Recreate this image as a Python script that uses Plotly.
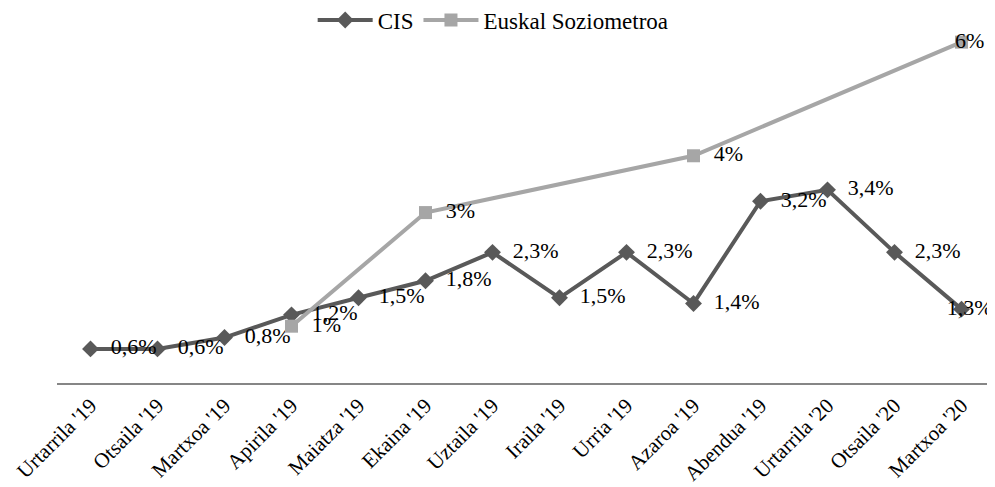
import plotly.graph_objects as go

months = ["Urtarrila '19", "Otsaila '19", "Martxoa '19", "Apirila '19", "Maiatza '19",
          "Ekaina '19", "Uztaila '19", "Iraila '19", "Urria '19", "Azaroa '19",
          "Abendua '19", "Urtarrila '20", "Otsaila '20", "Martxoa '20"]
cis = [0.6, 0.6, 0.8, 1.2, 1.5, 1.8, 2.3, 1.5, 2.3, 1.4, 3.2, 3.4, 2.3, 1.3]
euskal = [None, None, None, 1, None, 3, None, None, None, 4, None, None, None, 6]

def fmt(v, last=False):
    if v is None:
        return ""
    s = f"{int(v)}%" if float(v).is_integer() else f"{v:.1f}%".replace(".", ",")
    return "   " + s if last else "  " + s

FONT = "Liberation Serif"
n = len(months)
pos = ["middle right"] * (n - 1) + ["middle center"]

fig = go.Figure()
fig.add_trace(go.Scatter(
    x=months, y=cis, name="CIS", mode="lines+markers+text",
    line=dict(color="#595959", width=4),
    marker=dict(symbol="diamond", size=13, color="#595959"),
    text=[fmt(v, i == n - 1) for i, v in enumerate(cis)], textposition=pos,
    textfont=dict(family=FONT, size=22, color="#000000"),
    cliponaxis=False,
))
fig.add_trace(go.Scatter(
    x=months, y=euskal, name="Euskal Soziometroa", mode="lines+markers+text",
    connectgaps=True,
    line=dict(color="#A6A6A6", width=4),
    marker=dict(symbol="square", size=13, color="#A6A6A6"),
    text=[fmt(v, i == n - 1) for i, v in enumerate(euskal)], textposition=pos,
    textfont=dict(family=FONT, size=22, color="#000000"),
    cliponaxis=False,
))

fig.update_layout(
    width=995, height=487,
    margin=dict(l=49, r=8, t=12, b=112, autoexpand=False),
    paper_bgcolor="white", plot_bgcolor="white",
    font=dict(family=FONT, size=22, color="#000000"),
    showlegend=True,
    legend=dict(orientation="h", xref="paper", yref="paper",
                x=0.465, xanchor="center", y=1.0, yanchor="middle",
                font=dict(family=FONT, size=23), itemwidth=55,
                traceorder="normal", bgcolor="rgba(0,0,0,0)"),
    xaxis=dict(type="category", range=[-0.5, 13.5], showline=True,
               linecolor="#868686", linewidth=2, ticks="", showgrid=False,
               automargin=False,
               tickangle=-45, tickfont=dict(family=FONT, size=21, color="#000000")),
    yaxis=dict(range=[0, 6.39], visible=False, showgrid=False, zeroline=False),
)

fig.write_html("out.html")
